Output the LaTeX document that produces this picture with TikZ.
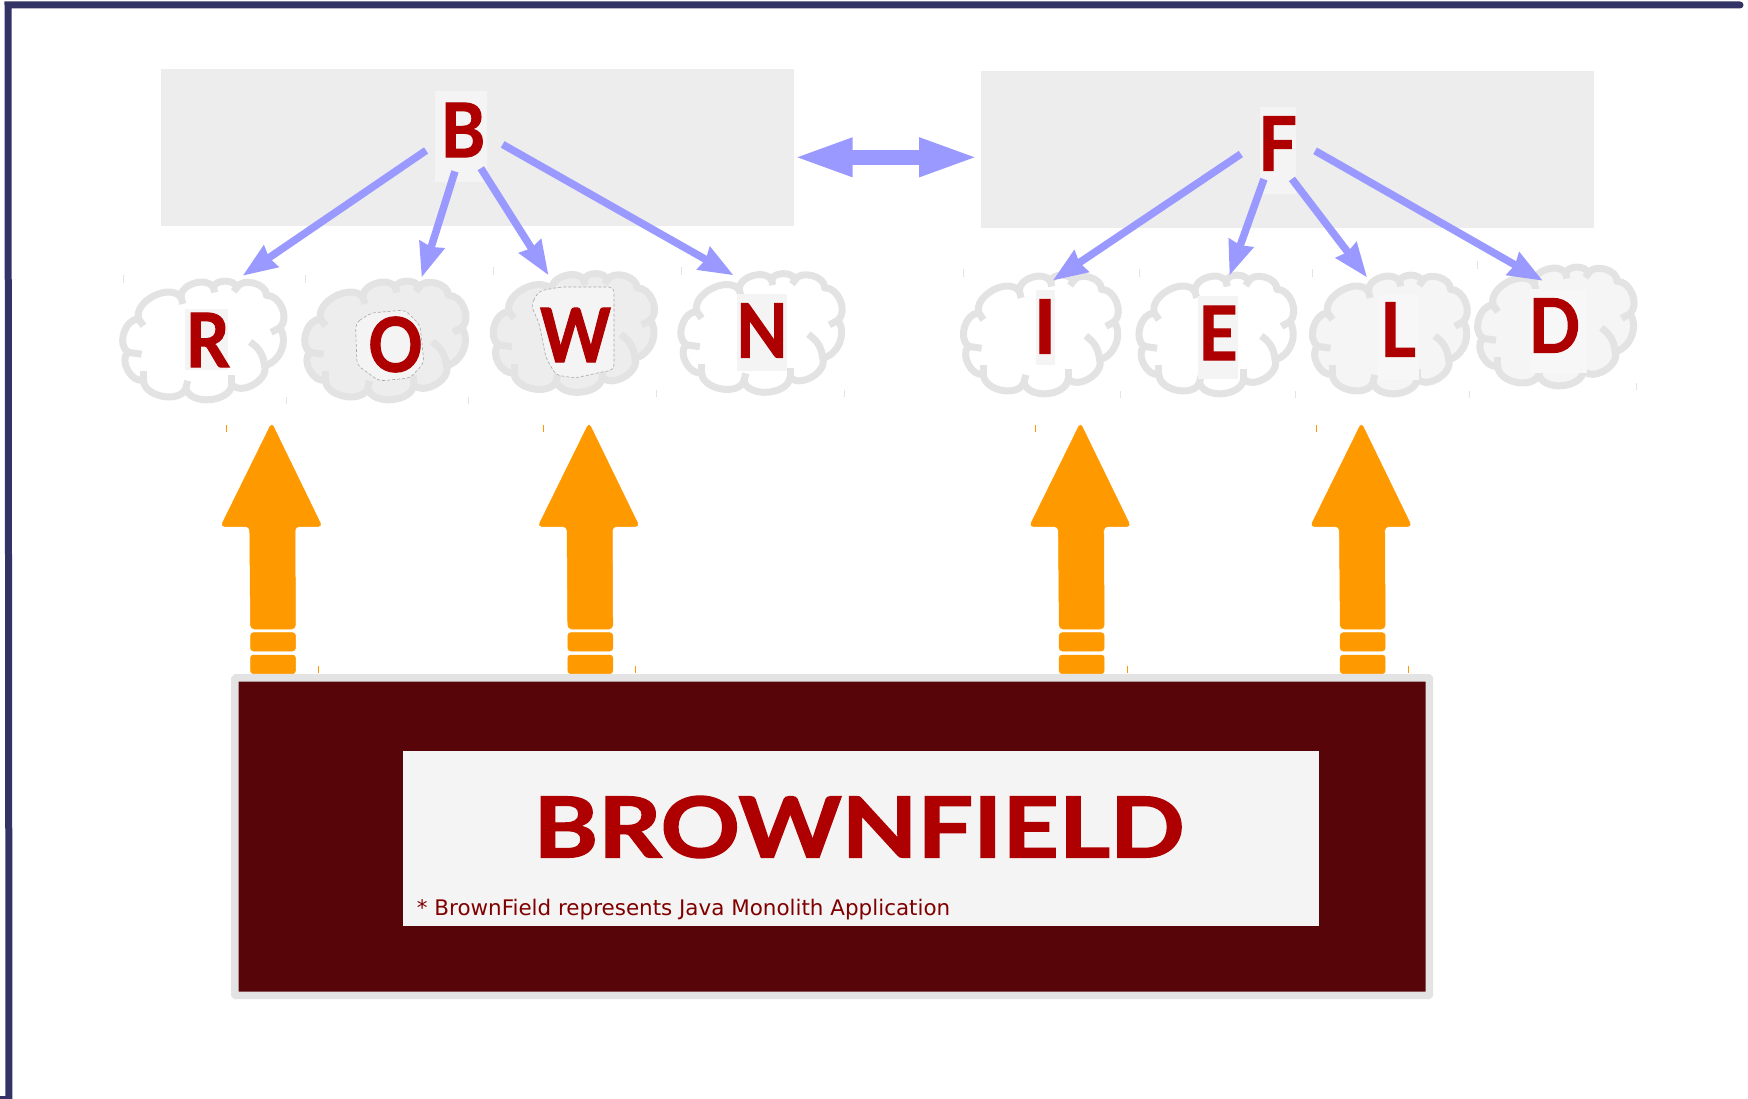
\documentclass[tikz,border=0pt]{standalone}
\usepackage{fontspec}
\setmainfont{Lato}[BoldFeatures={FakeBold=1.6}]
\newfontfamily\notefont{DejaVu Sans}
\usepackage{tikz}
\usetikzlibrary{arrows.meta}
\definecolor{nn}{RGB}{51, 51, 102}
\definecolor{gg}{RGB}{237, 237, 237}
\definecolor{ee}{RGB}{244, 244, 244}
\definecolor{ll}{RGB}{246, 245, 245}
\definecolor{kk}{RGB}{248, 247, 247}
\definecolor{cc}{RGB}{227, 227, 227}
\definecolor{bb}{RGB}{153, 153, 255}
\definecolor{oo}{RGB}{255, 153, 0}
\definecolor{rr}{RGB}{174, 0, 0}
\definecolor{dd}{RGB}{87, 5, 8}
\definecolor{tt}{RGB}{128, 0, 0}
\tikzset{
	plate/.style={rectangle, fill=gg, inner sep=0pt},
	patch/.style={rectangle, fill=ee, inner sep=0pt},
	letter/.style={inner sep=0pt, text=rr, font=\fontsize{75}{75}\bfseries},
	hub/.style={letter, circle, minimum size=#1},
	cloudbox/.style={rectangle, minimum width=170pt, minimum height=128pt, inner sep=0pt},
	flow/.style={draw=bb, line width=7.5pt, -{Stealth[length=34pt, width=25pt, inset=2pt]}},
	tick/.style={line width=1pt},
}
\newcommand{\nar}[1]{\scalebox{0.9}[1]{#1}}
\newcommand{\puffcloud}[4]{
	\begin{scope}[shift={(#1,#2)}, xscale=#4, draw=cc, line width=7pt, line join=round]
		\begin{scope}[xscale=0.96, yscale=0.95]
			\draw [fill=#3] (-68,-22) to[bend left=80] (-24,-45) to[bend left=80] (10,-55) to[bend left=85] (34,-55)
				to[bend left=80] (65,-47) to[bend left=70] (79,-13) to[bend left=55] (63,27)
				to[bend left=80] (29,47) to[bend left=80] (-19,51) to[bend left=80] (-63,42)
				to[bend left=80] (-79,13) to[bend left=75] cycle;
			\draw (-68,-22) to (-63,-15);
			\draw (-24,-45) to (-22,-38);
			\draw (10,-55) to (11,-50);
			\draw (34,-55) to (31,-51);
			\draw (79,-13) to (70,-8);
			\draw (63,27) to[bend right=25] (48,2);
			\draw (29,47) to (29,37);
			\draw (-19,51) to (-17,43);
			\draw (-63,42) to (-63,33);
			\draw (-79,13) to (-65,15);
		\end{scope}
		\draw [tick] (-81,-65) to (-81,-57);
		\draw [tick] (82,57) to (82,64);
	\end{scope}
}
\newcommand{\upblock}[1]{
	\begin{scope}[shift={(#1,0)}, fill=oo, draw=oo, rounded corners=4pt, line width=0.5pt]
		\filldraw (271.7,423) -- (322,526.5) -- (295,526.5) -- (295.5,629) -- (250.5,629) -- (249.7,526.5) -- (220.7,526.5) -- cycle;
		\filldraw [rounded corners=3pt] (250.5,632.7) rectangle (295.5,651);
		\filldraw [rounded corners=3pt] (250.5,655) rectangle (295.5,673.7);
		\draw [sharp corners, tick] (226.5,425) to (226.5,432);
		\draw [sharp corners, tick] (318.5,666) to (318.5,673);
	\end{scope}
}
\begin{document}
\begin{tikzpicture}
	[x=1pt,y=-1pt]
	\useasboundingbox (0,0) rectangle (1748,1099);
	\draw [nn, line width=7pt, line cap=round] (9,1103) -- (8,5) -- (1740,5);
	\draw [nn, line width=3pt] (0,1097.5) -- (9,1097.5);

	\node (bp) [plate, minimum width=633pt, minimum height=157pt] at (477,147.5) {};
	\node (fp) [plate, minimum width=613pt, minimum height=157pt] at (1287,149.5) {};
	\node [patch, minimum width=52pt, minimum height=91pt] at (461,136.5) {};
	\node [patch, minimum width=36.5pt, minimum height=87pt] at (1278,150.5) {};
	\node (b) [hub=84pt] at (463,130) {\nar{B}};
	\node (f) [hub=76pt] at (1277.6,143.5) {\nar{F}};

	\puffcloud{204}{340}{white}{1}
	\puffcloud{386}{340}{gg}{1}
	\puffcloud{574.5}{332.5}{gg}{1}
	\puffcloud{762.2}{332.5}{white}{1}
	\puffcloud{1041.5}{334}{white}{0.96}
	\puffcloud{1217}{334}{white}{0.96}
	\puffcloud{1390.5}{334}{ll}{0.96}
	\puffcloud{1556.5}{326}{ll}{0.97}

	\node (rc) [cloudbox] at (204,340) {};
	\node (oc) [cloudbox] at (386,340) {};
	\node (wc) [cloudbox] at (574.5,332.5) {};
	\node (nc) [cloudbox] at (762.2,332.5) {};
	\node (ic) [cloudbox] at (1041.5,334) {};
	\node (ec) [cloudbox] at (1217,334) {};
	\node (lc) [cloudbox] at (1390.5,334) {};
	\node (dc) [cloudbox] at (1556.5,326) {};

	\node [patch, minimum width=43.5pt, minimum height=61pt] at (206.7,339.5) {};
	\draw [fill=ee, draw=gray!70, line width=0.6pt, densely dashed, rounded corners=5pt] (355.5,323) -- (371,313) -- (405,310) -- (420,325) -- (424,363) -- (410,378) -- (379,381) -- (357,365) -- cycle;
	\draw [fill=ee, draw=gray!70, line width=0.6pt, densely dashed, rounded corners=5pt] (531,305) -- (539,291) -- (560.5,287) -- (614,287) -- (614,370) -- (602,372) -- (575,378) -- (556,375) -- (546,358) -- (539,323) -- cycle;
	\node [patch, minimum width=49.6pt, minimum height=76.7pt] at (762.2,332.3) {};
	\node [patch, minimum width=19pt, minimum height=75pt] at (1045.5,327.5) {};
	\node [patch, minimum width=40pt, minimum height=83pt] at (1218,337.5) {};
	\node [rectangle, fill=kk, inner sep=0pt, minimum width=41pt, minimum height=85pt] at (1398.5,337.5) {};
	\node [rectangle, fill=kk, inner sep=0pt, minimum width=57pt, minimum height=84pt] at (1558.5,331) {};

	\node (r) [letter] at (207.5,340) {\nar{R}};
	\node (o) [letter] at (395.5,344.5) {\nar{O}};
	\node (w) [letter] at (575.5,335) {\nar{W}};
	\node (n) [letter] at (762,330.5) {\nar{N}};
	\node (i) [letter] at (1045,326.5) {I};
	\node (e) [letter] at (1218,333) {\nar{E}};
	\node (l) [letter] at (1398,329.5) {\nar{L}};
	\node (d) [letter] at (1554.5,325.5) {\nar{D}};

	\draw [flow] (b.209) to (rc.59.3);
	\draw [flow] (b.259.5) to ([yshift=-1.7pt]oc.61.7);
	\draw [flow] (b.295) to ([yshift=-7pt]wc.112.2);
	\draw [flow] (b.340) to ([yshift=-7pt]nc.114.8);
	\draw [flow] (f.196) to ([yshift=-10.7pt]ic.80.9);
	\draw [flow] (f.249) to ([yshift=-5.7pt]ec.79.4);
	\draw [flow] (f.292) to ([yshift=-7.7pt]lc.110.3);
	\draw [flow] (f.349) to ([yshift=-19pt]dc.102.8);
	\draw [draw=bb, line width=14.5pt, {Triangle[length=60pt, width=35pt]}-{Triangle[length=60pt, width=35pt]}, shorten <=-1pt, shorten >=1.1pt] ([yshift=-9.8pt]bp.east) to ([yshift=-7.8pt]fp.west);

	\upblock{0}
	\upblock{317.3}
	\upblock{808.7}
	\upblock{1089.7}

	\node (mono) [rectangle, fill=dd, draw=cc, line width=7.5pt, rounded corners=1pt, minimum width=1194.5pt, minimum height=317.5pt, inner sep=0pt] at (832.2,836.7) {};
	\node (logo) [rectangle, fill=ee, minimum width=916pt, minimum height=174.7pt, inner sep=0pt] at (861,838.3) {};
	\node (word) [letter, font=\fontsize{84}{84}\bfseries] at (859,827) {\scalebox{1.17}[1]{BROWNFIELD}};
	\node (note) [inner sep=0pt, anchor=base west, text=tt, font=\notefont\fontsize{21.45}{22}\selectfont] at (416.7,915) {* BrownField represents Java Monolith Application};
\end{tikzpicture}
\end{document}
